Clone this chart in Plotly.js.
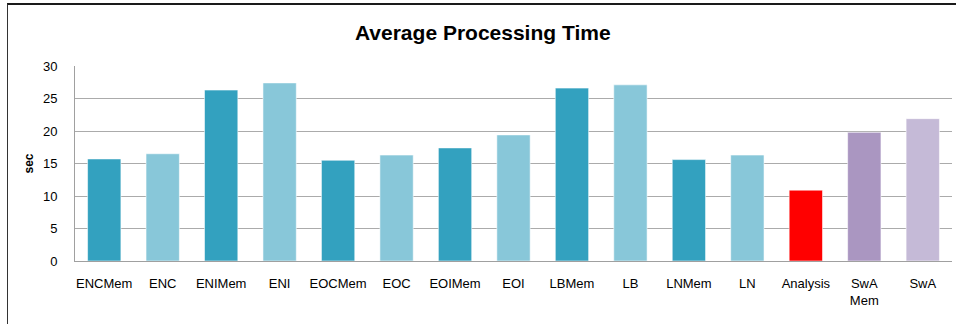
<!DOCTYPE html>
<html>
<head>
<meta charset="utf-8">
<script src="https://cdn.plot.ly/plotly-3.0.1.min.js"></script>
<style>
html,body{margin:0;padding:0;background:#fff;}
#wrap{position:relative;width:956px;height:324px;overflow:hidden;}
#chart{width:956px;height:324px;}
#frame{position:absolute;left:7px;top:3px;width:960px;height:330px;border-top:2px solid #1a1a1a;border-left:1px solid #333;pointer-events:none;}
</style>
</head>
<body>
<div id="wrap"><div id="chart"></div><div id="frame"></div></div>
<script>
const categories = ["ENCMem","ENC","ENIMem","ENI","EOCMem","EOC","EOIMem","EOI","LBMem","LB","LNMem","LN","Analysis","SwA<br>Mem","SwA"];
const values = [15.7, 16.5, 26.3, 27.4, 15.5, 16.3, 17.4, 19.4, 26.6, 27.1, 15.6, 16.3, 10.9, 19.8, 21.9];
const barColors = ["#33A1BF","#88C7D9","#33A1BF","#88C7D9","#33A1BF","#88C7D9","#33A1BF","#88C7D9","#33A1BF","#88C7D9","#33A1BF","#88C7D9","#FF0000","#AA96C1","#C5BAD7"];
const yTicks = [0,5,10,15,20,25,30];

const trace = {
  type: 'bar',
  x: categories,
  y: values,
  marker: {color: barColors, line: {color: 'rgba(255,255,255,0.55)', width: 1}},
  hoverinfo: 'x+y'
};

const layout = {
  width: 956, height: 324,
  margin: {l: 75, r: 4, t: 66, b: 63},
  paper_bgcolor: '#fff', plot_bgcolor: '#fff',
  showlegend: false,
  bargap: 0.43,
  font: {family: 'Liberation Sans, Arial, sans-serif', size: 13, color: '#000'},
  title: {text: '<b>Average Processing Time</b>', xref: 'container', x: 0.505, xanchor: 'center', y: 0.9, yref: 'container', yanchor: 'middle',
          font: {family: 'Liberation Sans, Arial, sans-serif', size: 21, color: '#000'}},
  xaxis: {
    type: 'category', showgrid: false, zeroline: false,
    showline: true, linecolor: '#A0A0A0', linewidth: 1,
    ticks: '', ticklabelstandoff: 10,
    tickfont: {size: 13, color: '#000'}, fixedrange: true
  },
  yaxis: {
    range: [0, 30], tickvals: yTicks, ticktext: yTicks.map(String),
    showgrid: true, gridcolor: '#ABABAB', gridwidth: 1,
    zeroline: false, showline: true, linecolor: '#A0A0A0', linewidth: 1,
    ticks: '', ticklabelstandoff: 14,
    tickfont: {size: 13, color: '#000'},
    title: {text: '<b>sec</b>', standoff: 6, font: {size: 12, color: '#000'}},
    fixedrange: true
  }
};

Plotly.newPlot('chart', [trace], layout, {displayModeBar: false, staticPlot: true});
</script>
</body>
</html>
